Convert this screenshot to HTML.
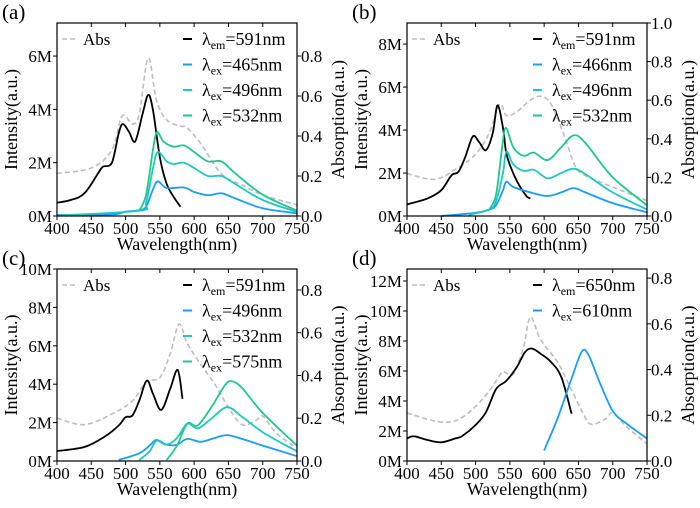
<!DOCTYPE html>
<html><head><meta charset="utf-8"><style>
body{margin:0;background:#fff;}
svg{display:block;}
svg text{font-family:"Liberation Serif","Noto Serif CJK SC","DejaVu Serif",serif;}
</style></head><body>
<svg id="chart" width="700" height="508" viewBox="0 0 700 508"></svg>
<script>
// ---- Panel (a) data: [wavelength, value] ----
const aAbs=[[400,0.213],[450,0.24],[480,0.33],[495,0.5],[510,0.46],[520,0.51],[533,0.79],[545,0.58],[560,0.48],[580,0.45],[590,0.44],[610,0.36],[640,0.21],[670,0.155],[700,0.105],[750,0.055]];
const aEm=[[400,0.5],[420,0.6],[440,0.85],[460,1.6],[467,1.85],[480,2.0],[490,3.1],[496,3.45],[505,3.16],[514,2.8],[525,3.85],[533,4.54],[540,3.97],[550,2.2],[560,1.2],[570,0.72],[580,0.35]];
const aEx1=[[400,0.04],[480,0.06],[500,0.16],[520,0.22],[530,0.35],[540,1.0],[547,1.3],[560,1.05],[585,1.07],[600,0.9],[620,0.78],[640,0.85],[660,0.66],[700,0.29],[750,0.1]];
const aEx2=[[400,0.02],[520,0.2],[530,0.5],[540,1.8],[547,2.4],[560,2.05],[570,1.95],[585,2.0],[600,1.8],[620,1.5],[640,1.5],[660,1.2],[700,0.6],[750,0.15]];
const aEx3=[[520,0.2],[530,0.8],[540,2.5],[546,3.15],[555,2.8],[570,2.6],[585,2.65],[600,2.4],[620,2.05],[640,2.05],[660,1.6],[700,0.8],[750,0.2]];
// ---- Panel (b) ----
const bAbs=[[400,0.22],[440,0.19],[470,0.24],[500,0.32],[520,0.43],[535,0.58],[545,0.52],[560,0.54],[580,0.6],[595,0.62],[610,0.58],[630,0.41],[645,0.26],[660,0.21],[700,0.15],[750,0.08]];
const bEm=[[400,0.54],[430,0.82],[450,1.2],[465,1.9],[475,2.05],[485,2.75],[496,3.7],[505,3.45],[515,3.06],[525,3.85],[532,5.15],[540,4.1],[545,2.9],[555,1.98],[565,1.36],[575,0.9],[580,0.82]];
const bEx1=[[450,0.0],[500,0.15],[520,0.3],[530,0.5],[540,1.2],[545,1.6],[555,1.35],[580,1.1],[605,0.93],[625,1.1],[643,1.3],[660,1.1],[700,0.6],[750,0.17]];
const bEx2=[[490,0.05],[520,0.3],[530,0.7],[540,2.0],[545,3.0],[555,2.4],[570,2.1],[585,2.15],[605,1.75],[625,2.0],[643,2.2],[660,1.95],[700,1.1],[750,0.3]];
const bEx3=[[520,0.3],[530,1.0],[538,3.0],[544,4.1],[555,3.2],[570,2.8],[585,2.95],[605,2.6],[625,3.2],[643,3.75],[660,3.4],[700,1.8],[750,0.5]];
// ---- Panel (c) ----
const cAbs=[[400,0.2],[440,0.17],[480,0.22],[510,0.28],[530,0.37],[550,0.39],[565,0.5],[578,0.64],[590,0.55],[610,0.45],[630,0.36],[650,0.25],[670,0.17],[690,0.19],[700,0.21],[720,0.13],[750,0.06]];
const cEm=[[400,0.52],[440,0.73],[470,1.28],[490,1.85],[500,2.28],[510,2.37],[520,3.15],[531,4.19],[540,3.5],[552,2.66],[565,3.75],[576,4.74],[583,3.24]];
const cEx1=[[490,0.05],[520,0.4],[535,0.8],[545,1.1],[560,0.85],[575,0.85],[590,1.15],[610,1.0],[630,1.2],[648,1.35],[670,1.15],[700,0.8],[750,0.25]];
const cEx2=[[520,0.05],[535,0.5],[545,1.05],[560,0.85],[575,1.2],[590,1.95],[605,1.7],[625,2.2],[648,2.8],[670,2.3],[700,1.5],[750,0.5]];
const cEx3=[[560,0.05],[575,0.8],[590,1.95],[605,1.85],[625,2.8],[645,3.95],[655,4.15],[670,3.8],[700,2.5],[750,0.8]];
// ---- Panel (d) ----
const dAbs=[[400,0.21],[450,0.17],[480,0.19],[510,0.27],[530,0.35],[540,0.39],[555,0.38],[570,0.5],[580,0.63],[595,0.53],[620,0.43],[640,0.31],[660,0.19],[670,0.16],[690,0.185],[700,0.21],[720,0.15],[750,0.075]];
const dEm=[[400,1.5],[410,1.65],[430,1.4],[450,1.25],[470,1.5],[480,1.65],[500,2.4],[515,3.25],[530,4.8],[545,5.35],[560,6.25],[572,7.25],[582,7.5],[595,7.15],[610,6.6],[625,5.6],[640,3.15]];
const dEx1=[[600,0.7],[620,2.9],[640,5.5],[655,7.3],[665,7.05],[680,5.35],[700,3.35],[720,2.5],[750,1.5]];
// ---- tick labels ----
const xTicks=[400,450,500,550,600,650,700,750];
const aLeftTicks=[0,2,4,6], bLeftTicks=[0,2,4,6,8], cLeftTicks=[0,2,4,6,8,10], dLeftTicks=[0,2,4,6,8,10,12];
const aRightTicks=[0,0.2,0.4,0.6,0.8], bRightTicks=[0,0.2,0.4,0.6,0.8,1.0], cRightTicks=[0,0.2,0.4,0.6,0.8], dRightTicks=[0,0.2,0.4,0.6,0.8];
const aLegend=["em|591","ex|465","ex|496","ex|532"], bLegend=["em|591","ex|466","ex|496","ex|532"], cLegend=["em|591","ex|496","ex|532","ex|575"], dLegend=["em|650","ex|610"];

const NS="http://www.w3.org/2000/svg";
const svg=document.getElementById('chart');
const COLORS=["#000","#1a9cff","#1ec8c0","#1fc88a"];
function mk(tag,attrs,parent){const e=document.createElementNS(NS,tag);for(const k in attrs)e.setAttribute(k,attrs[k]);(parent||svg).appendChild(e);return e;}
function smooth(pts){let d="M"+pts[0][0].toFixed(1)+","+pts[0][1].toFixed(1);
 for(let i=0;i<pts.length-1;i++){const p0=pts[i-1]||pts[i],p1=pts[i],p2=pts[i+1],p3=pts[i+2]||p2;
  const c1=[p1[0]+(p2[0]-p0[0])/6,p1[1]+(p2[1]-p0[1])/6],c2=[p2[0]-(p3[0]-p1[0])/6,p2[1]-(p3[1]-p1[1])/6];
  d+="C"+c1[0].toFixed(1)+","+c1[1].toFixed(1)+" "+c2[0].toFixed(1)+","+c2[1].toFixed(1)+" "+p2[0].toFixed(1)+","+p2[1].toFixed(1);}
 return d;}
function panel(p){
 const g=mk('g',{transform:`translate(${p.ox},${p.oy})`});
 
 
 const L=57,R=297,T=p.top,B=p.bot;
 const X=v=>L+(v-400)/350*(R-L);
 const YL=v=>B-v/p.lmax*(B-T);
 const YR=v=>B-v/p.rmax*(B-T);
 const lab=mk('text',{x:2,y:p.top-4,'font-size':21},g);lab.textContent='('+p.id+')';
 
 
 const abs=mk('path',{d:smooth(p.abs.map(q=>[X(q[0]),YR(q[1])])),fill:'none',stroke:'#bdbdbd','stroke-width':1.6,'stroke-dasharray':'5,3'},g);
 
 
 p.series.forEach((s,i)=>{const e=mk('path',{d:smooth(s.map(q=>[X(q[0]),YL(q[1])])),fill:'none',stroke:COLORS[i],'stroke-width':1.8},g);
  
  });
 const fr=mk('rect',{x:L,y:T,width:R-L,height:B-T,fill:'none',stroke:'#000','stroke-width':1.2},g);
 
 
 xTicks.forEach(v=>{mk('line',{x1:X(v),x2:X(v),y1:B,y2:B+4,stroke:'#000'},g);mk('line',{x1:X(v),x2:X(v),y1:T,y2:T+4,stroke:'#000'},g);
  const t=mk('text',{x:X(v),y:B+18,'font-size':17,'text-anchor':'middle'},g);t.textContent=v;
  
  });
 p.lt.forEach(v=>{mk('line',{x1:L-4,x2:L,y1:YL(v),y2:YL(v),stroke:'#000'},g);
  const t=mk('text',{x:L-5,y:YL(v)+6,'font-size':17,'text-anchor':'end'},g);t.textContent=v+'M';
  
  });
 p.rt.forEach(v=>{mk('line',{x1:R,x2:R+4,y1:YR(v),y2:YR(v),stroke:'#000'},g);
  const t=mk('text',{x:R+4,y:YR(v)+6,'font-size':17},g);t.textContent=v.toFixed(1);
  
  });
 const mid=(T+B)/2;
 const yl=mk('text',{x:0,y:0,'font-size':18,'text-anchor':'middle',transform:`translate(17,${mid}) rotate(-90)`},g);yl.textContent='Intensity(a.u.)';
 
 
 const yr=mk('text',{x:0,y:0,'font-size':18,'text-anchor':'middle',transform:`translate(344,${mid}) rotate(-90)`},g);yr.textContent='Absorption(a.u.)';
 
 
 const xt=mk('text',{x:(L+R)/2,y:B+34,'font-size':18,'text-anchor':'middle'},g);xt.textContent='Wavelength(nm)';
 
 
 const ly=T+16;
 mk('line',{x1:62,x2:78,y1:ly,y2:ly,stroke:'#bdbdbd','stroke-width':1.6,'stroke-dasharray':'5,3'},g);
 const at=mk('text',{x:83,y:ly+6,'font-size':17},g);at.textContent='Abs';
 
 
 p.leg.forEach((s,i)=>{const [sub,val]=s.split('|');const y=ly+i*25.5;
  mk('line',{x1:183,x2:192,y1:y,y2:y,stroke:COLORS[i],'stroke-width':2},g);
  const t=mk('text',{x:202,y:y+6,'font-size':18},g);
  
  
  t.appendChild(document.createTextNode('λ'));
  const ts=mk('tspan',{'font-size':12,dy:4},t);ts.textContent=sub;
  const tv=mk('tspan',{dy:-4},t);tv.textContent='='+val+'nm';});
}
panel({id:'a',ox:0,oy:0,top:23,bot:216,lmax:7.24,rmax:0.965,abs:aAbs,series:[aEm,aEx1,aEx2,aEx3],lt:aLeftTicks,rt:aRightTicks,leg:aLegend});
panel({id:'b',ox:350,oy:0,top:23,bot:216,lmax:8.98,rmax:1.0,abs:bAbs,series:[bEm,bEx1,bEx2,bEx3],lt:bLeftTicks,rt:bRightTicks,leg:bLegend});
panel({id:'c',ox:0,oy:254,top:15,bot:207,lmax:10,rmax:0.898,abs:cAbs,series:[cEm,cEx1,cEx2,cEx3],lt:cLeftTicks,rt:cRightTicks,leg:cLegend});
panel({id:'d',ox:350,oy:254,top:15,bot:207,lmax:12.8,rmax:0.84,abs:dAbs,series:[dEm,dEx1],lt:dLeftTicks,rt:dRightTicks,leg:dLegend});
</script>
</body></html>
